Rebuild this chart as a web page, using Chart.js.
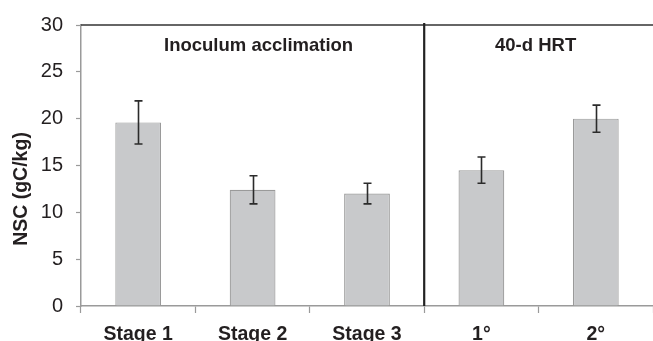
<!DOCTYPE html>
<html>
<head>
<meta charset="utf-8">
<script src="https://cdn.jsdelivr.net/npm/chart.js@4/dist/chart.umd.min.js"></script>
<style>
  html, body { margin: 0; padding: 0; background: #fff; }
  #wrap { width: 653px; height: 341px; position: relative; }
</style>
</head>
<body>
<div id="wrap"><canvas id="c" width="653" height="341"></canvas></div>
<script>
// NSC content per stage, with standard deviation
const categories = ['Stage 1', 'Stage 2', 'Stage 3', '1°', '2°'];
const nscValues = [19.6, 12.4, 12.0, 14.5, 20.0];
const nscErrors = [2.3, 1.5, 1.1, 1.4, 1.45];
const yTicks = [0, 5, 10, 15, 20, 25, 30];
const groupLabels = ['Inoculum acclimation', '40-d HRT'];

const FONT = '"Liberation Sans", Arial, Helvetica, sans-serif';
const INK = '#231f20';

// error bars, group divider, top frame line and group captions
const decorations = {
  id: 'decorations',
  afterDatasetsDraw(chart) {
    const { ctx, chartArea, scales } = chart;
    const x = scales.x, y = scales.y;
    ctx.save();

    // top frame line
    ctx.strokeStyle = '#333';
    ctx.lineWidth = 1.5;
    ctx.beginPath();
    ctx.moveTo(chartArea.left, chartArea.top);
    ctx.lineTo(chartArea.right, chartArea.top);
    ctx.stroke();

    // error bars
    const meta = chart.getDatasetMeta(0);
    ctx.strokeStyle = '#2b2b2b';
    ctx.lineWidth = 1.6;
    meta.data.forEach((bar, i) => {
      const cx = Math.round(bar.x) + 0.5;
      const yTop = y.getPixelForValue(nscValues[i] + nscErrors[i]);
      const yBot = y.getPixelForValue(nscValues[i] - nscErrors[i]);
      const cap = 4;
      ctx.beginPath();
      ctx.moveTo(cx, yTop); ctx.lineTo(cx, yBot);
      ctx.moveTo(cx - cap, yTop); ctx.lineTo(cx + cap, yTop);
      ctx.moveTo(cx - cap, yBot); ctx.lineTo(cx + cap, yBot);
      ctx.stroke();
    });

    // divider between the two groups
    const divX = (x.getPixelForValue(2) + x.getPixelForValue(3)) / 2;
    ctx.strokeStyle = '#222';
    ctx.lineWidth = 2.2;
    ctx.beginPath();
    ctx.moveTo(divX, chartArea.top - 2);
    ctx.lineTo(divX, chartArea.bottom);
    ctx.stroke();

    // group captions
    ctx.fillStyle = INK;
    ctx.font = 'bold 18.5px ' + FONT;
    ctx.textAlign = 'center';
    ctx.textBaseline = 'alphabetic';
    const capY = chartArea.top + 26;
    ctx.fillText(groupLabels[0], x.getPixelForValue(1) + 6, capY);
    ctx.fillText(groupLabels[1], x.getPixelForValue(3.5) - 3, capY);

    // y-axis title
    ctx.save();
    ctx.translate(22, 189);
    ctx.rotate(-Math.PI / 2);
    ctx.textBaseline = 'middle';
    ctx.font = 'bold 19.5px ' + FONT;
    ctx.fillText('NSC (gC/kg)', 0, 0);
    ctx.restore();

    ctx.restore();
  }
};

new Chart(document.getElementById('c'), {
  type: 'bar',
  data: {
    labels: categories,
    datasets: [{
      data: nscValues,
      backgroundColor: '#c8c9cb',
      borderColor: '#9a9a9a',
      borderWidth: 1.2,
      borderSkipped: 'bottom',
      categoryPercentage: 1.0,
      barPercentage: 0.4
    }]
  },
  options: {
    responsive: false,
    animation: false,
    devicePixelRatio: 1,
    layout: { padding: { top: 21, right: 0, left: 0, bottom: 0 } },
    plugins: { legend: { display: false }, tooltip: { enabled: false } },
    scales: {
      x: {
        offset: true,
        grid: { offset: true, drawOnChartArea: false, drawTicks: true, tickLength: 7, tickColor: '#9a9a9a', tickWidth: 1.2 },
        border: { color: '#9a9a9a', width: 1.5 },
        ticks: { color: INK, font: { family: FONT, size: 19.5, weight: 'bold' }, padding: 10, maxRotation: 0 },
        afterFit(scale) { scale.height = 35; }
      },
      y: {
        min: 0, max: 30,
        afterBuildTicks(scale) { scale.ticks = yTicks.map(v => ({ value: v })); },
        grid: { drawOnChartArea: false, drawTicks: true, tickLength: 5, tickColor: '#9a9a9a', tickWidth: 1.2 },
        border: { color: '#9a9a9a', width: 1.5 },
        ticks: { color: INK, font: { family: FONT, size: 20 }, padding: 13 },
        afterFit(scale) { scale.width = 81; }
      }
    }
  },
  plugins: [decorations]
});
</script>
</body>
</html>
